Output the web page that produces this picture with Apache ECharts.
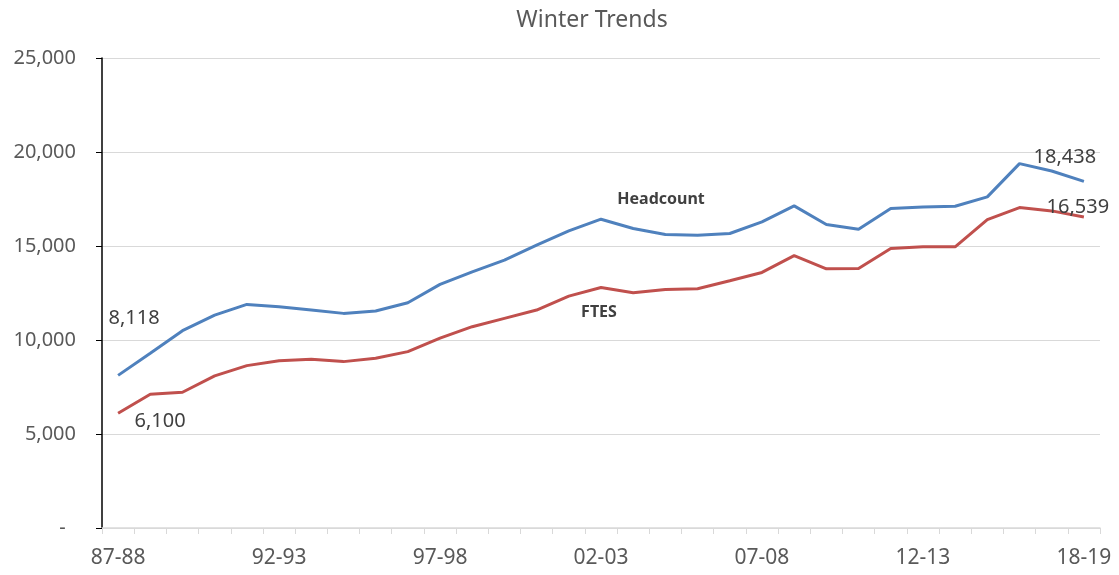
<!DOCTYPE html>
<html>
<head>
<meta charset="utf-8">
<title>Winter Trends</title>
<script src="https://cdn.jsdelivr.net/npm/echarts@6/dist/echarts.min.js"></script>
<style>
  html, body { margin: 0; padding: 0; background: #fff; }
  #main { width: 1119px; height: 575px; }
</style>
</head>
<body>
<div id="main"></div>
<script>
// school years (one year is missing between 16-17 and 18-19 in the source)
const categories = ['87-88', '88-89', '89-90', '90-91', '91-92', '92-93', '93-94', '94-95', '95-96', '96-97',
  '97-98', '98-99', '99-00', '00-01', '01-02', '02-03', '03-04', '04-05', '05-06', '06-07',
  '07-08', '08-09', '09-10', '10-11', '11-12', '12-13', '13-14', '14-15', '15-16', '16-17', '18-19'];

const headcount = [8118, 9300, 10496, 11327, 11894, 11770, 11593, 11416, 11540, 11982,
  12960, 13628, 14248, 15044, 15805, 16425, 15929, 15611, 15575, 15664,
  16283, 17133, 16142, 15894, 16991, 17080, 17115, 17611, 19381, 18991, 18438];

const ftes = [6100, 7115, 7221, 8088, 8637, 8900, 8973, 8850, 9027, 9381,
  10100, 10708, 11150, 11593, 12336, 12796, 12513, 12690, 12726, 13150,
  13593, 14490, 13788, 13805, 14867, 14956, 14956, 16407, 17044, 16867, 16539];

const yTicks = [0, 5000, 10000, 15000, 20000, 25000];

const FONT = 'Noto Sans';
const fmt = v => v === 0 ? '-  ' : v.toLocaleString('en-US');

// label only first and last point of a series
const withEndLabels = (arr, firstOffset, lastOffset) => arr.map((v, i) => {
  if (i === 0 || i === arr.length - 1) {
    return {
      value: v,
      label: {
        show: true,
        position: 'inside',
        offset: i === 0 ? firstOffset : lastOffset,
        formatter: p => fmt(p.value),
        color: '#404040',
        fontSize: 20,
        fontFamily: FONT
      }
    };
  }
  return v;
});

const chart = echarts.init(document.getElementById('main'));
chart.setOption({
  animation: false,
  textStyle: { fontFamily: FONT },
  title: {
    text: 'Winter Trends',
    left: 587,
    top: 4,
    textAlign: 'center',
    textStyle: { color: '#595959', fontSize: 23, fontWeight: 'normal', fontFamily: FONT }
  },
  grid: { left: 102, right: 19, top: 58, bottom: 47 },
  xAxis: {
    type: 'category',
    data: categories,
    boundaryGap: true,
    axisLine: { lineStyle: { color: '#d9d9d9', width: 1.5 } },
    axisTick: { show: true, interval: 0, length: 6, lineStyle: { color: '#d9d9d9' } },
    axisLabel: { interval: 4, margin: 20, color: '#595959', fontSize: 21, fontFamily: FONT },
    splitLine: { show: false }
  },
  yAxis: {
    type: 'value',
    min: yTicks[0],
    max: yTicks[yTicks.length - 1],
    interval: 5000,
    axisLine: { show: true, lineStyle: { color: '#000', width: 1.5 } },
    axisTick: { show: true, length: 6, lineStyle: { color: '#000' } },
    axisLabel: { margin: 26, color: '#595959', fontSize: 20, fontFamily: FONT, formatter: fmt },
    splitLine: { lineStyle: { color: '#d9d9d9', width: 1 } }
  },
  series: [
    {
      name: 'Headcount',
      type: 'line',
      data: withEndLabels(headcount, [16, -57], [-19, -24]),
      showSymbol: true,
      symbol: 'circle',
      symbolSize: 0,
      lineStyle: { color: '#4F81BD', width: 3 },
      itemStyle: { color: '#4F81BD' },
      label: { show: false }
    },
    {
      name: 'FTES',
      type: 'line',
      data: withEndLabels(ftes, [42, 8], [-6, -10]),
      showSymbol: true,
      symbol: 'circle',
      symbolSize: 0,
      lineStyle: { color: '#C0504D', width: 3 },
      itemStyle: { color: '#C0504D' },
      label: { show: false }
    }
  ],
  graphic: [
    {
      type: 'text', x: 661, y: 199,
      style: { text: 'Headcount', fill: '#404040', font: 'bold 16px "Noto Sans"', textAlign: 'center', textVerticalAlign: 'middle' }
    },
    {
      type: 'text', x: 599, y: 312,
      style: { text: 'FTES', fill: '#404040', font: 'bold 16px "Noto Sans"', textAlign: 'center', textVerticalAlign: 'middle' }
    }
  ]
});
</script>
</body>
</html>
